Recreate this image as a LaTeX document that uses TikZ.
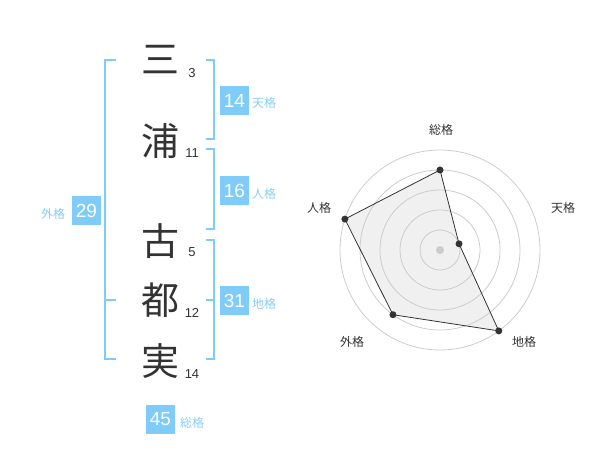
\documentclass[tikz,border=0pt]{standalone}
\usepackage{fontspec}
\setmainfont{Liberation Sans}
\newfontfamily\jpfont{Noto Sans CJK JP}
\usepackage{xcolor}
\usepackage{tikz}
\definecolor{kakublue}{HTML}{80CCF8}
\definecolor{kakutext}{HTML}{88CCF4}
\definecolor{ink}{HTML}{333333}
\definecolor{ringgray}{HTML}{CCCCCC}
\definecolor{areagray}{HTML}{F0F0F0}

\tikzset{
  kanji/.style={font=\jpfont\fontsize{38}{38}\selectfont, text=ink, inner sep=0pt},
  strokes/.style={font=\fontsize{13}{13}\selectfont, text=ink, inner sep=0pt},
  kakubox/.style={fill=kakublue, text=white, minimum size=29pt, inner sep=0pt, font=\fontsize{19}{19}\selectfont},
  kakuname/.style={font=\jpfont\fontsize{12}{12}\selectfont, text=kakutext, inner sep=0pt, anchor=west},
  bracket/.style={draw=kakublue, line width=1.6pt},
  axisname/.style={font=\jpfont\fontsize{12}{12}\selectfont, text=ink, inner sep=0pt},
  dot/.style={circle, fill=ink, inner sep=0pt, minimum size=7pt},
}

\begin{document}
\begin{tikzpicture}[x=1pt, y=-1pt]
      \useasboundingbox (0,0) rectangle (600,470);

      % name column
      \node[kanji] (c1) at (160,60){三};
      \node[kanji] (c2) at (160,141){浦};
      \node[kanji] (c3) at (160,241){古};
      \node[kanji] (c4) at (160,300){都};
      \node[kanji] (c5) at (160,361){実};

      \node[strokes] (n1) at (192,73){3};
      \node[strokes] (n2) at (192,153){11};
      \node[strokes] (n3) at (192,252){5};
      \node[strokes] (n4) at (192,313){12};
      \node[strokes] (n5) at (192,374){14};

      % brackets
      \draw[bracket] (116,60) -- (105,60) -- (105,359) -- (116,359);
      \draw[bracket] (105,300) -- (116,300);
      \draw[bracket] (206,60) -- (214,60) -- (214,139) -- (206,139);
      \draw[bracket] (206,149) -- (214,149) -- (214,229) -- (206,229);
      \draw[bracket] (206,240) -- (214,240) -- (214,359) -- (206,359);
      \draw[bracket] (206,300) -- (214,300);

      % scores
      \node[kakubox] (ten) at (234.5,100.5){14};
      \node[kakuname] (tenl) at (252,103){天格};
      \node[kakubox] (jin) at (234.5,190.5){16};
      \node[kakuname] (jinl) at (252,194){人格};
      \node[kakubox] (chi) at (234.5,300.5){31};
      \node[kakuname] (chil) at (252,304){地格};
      \node[kakubox] (gai) at (86.5,210.5){29};
      \node[kakuname] (gail) at (41,214){外格};
      \node[kakubox] (sou) at (160.5,419.5){45};
      \node[kakuname] (soul) at (180,423){総格};

      % radar
      \begin{scope}[shift={(440,250)}, yscale=-1]
        \coordinate (o) at (0,0);
        \coordinate (p1) at (90:80);
        \coordinate (p2) at (18:20);
        \coordinate (p3) at (-54:100);
        \coordinate (p4) at (-126:80);
        \coordinate (p5) at (162:100);
        \fill[areagray] (p1) -- (p2) -- (p3) -- (p4) -- (p5) -- cycle;
        \foreach \r in {20,40,60,80,100}
          \draw[ringgray, line width=0.8pt] (o) circle (\r);
        \fill[ringgray] (o) circle (4);
        \draw[ink, line width=0.8pt] (p1) -- (p2) -- (p3) -- (p4) -- (p5) -- cycle;
        \foreach \p in {p1,p2,p3,p4,p5}
          \node[dot] at (\p){};
      \end{scope}
      \node[axisname] (a1) at (441,130){総格};
      \node[axisname] (a2) at (563,208){天格};
      \node[axisname] (a3) at (524,342){地格};
      \node[axisname] (a4) at (352,342){外格};
      \node[axisname] (a5) at (319,208){人格};
\end{tikzpicture}
\end{document}
